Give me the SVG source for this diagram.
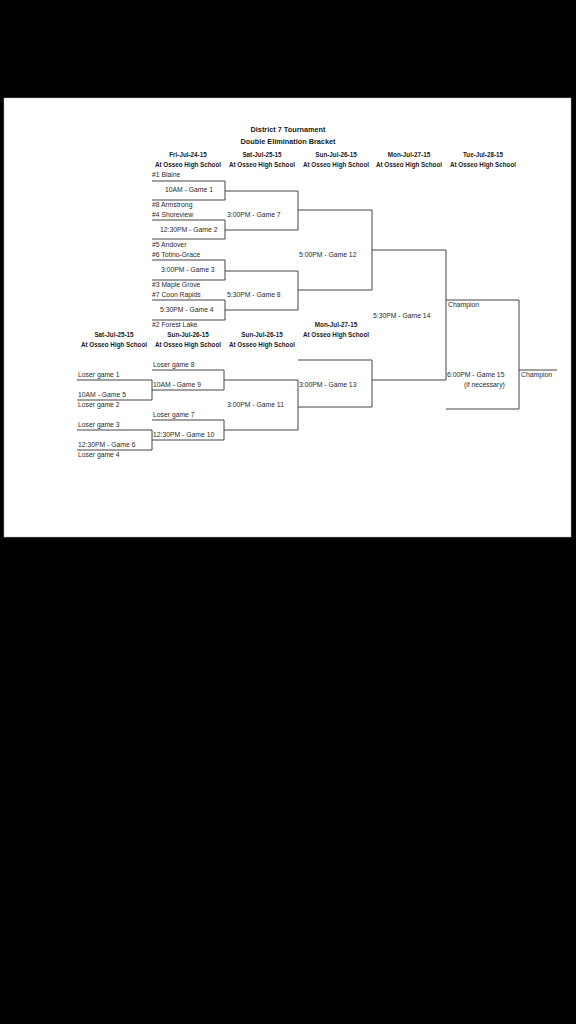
<svg xmlns="http://www.w3.org/2000/svg" width="576" height="1024" viewBox="0 0 576 1024">
<style>
.t{font-family:"Liberation Sans",Arial,sans-serif;font-size:6.8px;fill:#2a2a2a}
.h{font-family:"Liberation Sans",Arial,sans-serif;font-size:6.3px;font-weight:bold;fill:#1a1a1a;text-anchor:middle}
.ti{font-family:"Liberation Sans",Arial,sans-serif;font-size:7.3px;font-weight:bold;fill:#1a1a1a;text-anchor:middle}
.c{fill:none;stroke:#444;stroke-width:1}
</style>
<rect x="0" y="0" width="576" height="1024" fill="#000"/>
<rect x="4" y="98" width="567" height="439" fill="#fff" stroke="#bbb" stroke-width="0.5"/>
<g id="title">
<text class="ti" x="288" y="132">District 7 Tournament</text>
<text class="ti" x="288" y="144">Double Elimination Bracket</text>
</g>
<g id="headers">
<text class="h" x="188" y="157">Fri-Jul-24-15</text>
<text class="h" x="188" y="167">At Osseo High School</text>
<text class="h" x="262" y="157">Sat-Jul-25-15</text>
<text class="h" x="262" y="167">At Osseo High School</text>
<text class="h" x="336" y="157">Sun-Jul-26-15</text>
<text class="h" x="336" y="167">At Osseo High School</text>
<text class="h" x="409" y="157">Mon-Jul-27-15</text>
<text class="h" x="409" y="167">At Osseo High School</text>
<text class="h" x="483" y="157">Tue-Jul-28-15</text>
<text class="h" x="483" y="167">At Osseo High School</text>
<text class="h" x="114" y="337">Sat-Jul-25-15</text>
<text class="h" x="114" y="347">At Osseo High School</text>
<text class="h" x="188" y="337">Sun-Jul-26-15</text>
<text class="h" x="188" y="347">At Osseo High School</text>
<text class="h" x="262" y="337">Sun-Jul-26-15</text>
<text class="h" x="262" y="347">At Osseo High School</text>
<text class="h" x="336" y="327">Mon-Jul-27-15</text>
<text class="h" x="336" y="337">At Osseo High School</text>
</g>
<g id="connectors">
<path class="c" d="M152 181H225V200H152"/>
<path class="c" d="M152 220H225V239H152"/>
<path class="c" d="M152 260H225V280H152"/>
<path class="c" d="M152 300H225V320H152"/>
<path class="c" d="M225 191H298V230H225"/>
<path class="c" d="M225 271H298V310H225"/>
<path class="c" d="M298 210H372V290H298"/>
<path class="c" d="M372 250H446V380H372"/>
<path class="c" d="M446 300H519V409H446"/>
<path class="c" d="M519 370H557"/>
<path class="c" d="M77 380H152V400H77"/>
<path class="c" d="M77 430H152V450H77"/>
<path class="c" d="M152 370H224V390H152"/>
<path class="c" d="M152 420H224V440H152"/>
<path class="c" d="M224 380H298V430H224"/>
<path class="c" d="M298 360H372V407H298"/>
</g>
<g id="winners">
<text class="t" x="152" y="177">#1 Blaine</text>
<text class="t" x="165" y="192">10AM - Game 1</text>
<text class="t" x="152" y="207">#8 Armstrong</text>
<text class="t" x="152" y="217">#4 Shoreview</text>
<text class="t" x="160" y="232">12:30PM - Game 2</text>
<text class="t" x="152" y="247">#5 Andover</text>
<text class="t" x="152" y="257">#6 Totino-Grace</text>
<text class="t" x="161" y="272">3:00PM - Game 3</text>
<text class="t" x="152" y="287">#3 Maple Grove</text>
<text class="t" x="152" y="297">#7 Coon Rapids</text>
<text class="t" x="160" y="312">5:30PM - Game 4</text>
<text class="t" x="152" y="327">#2 Forest Lake</text>
<text class="t" x="227" y="217">3:00PM - Game 7</text>
<text class="t" x="227" y="297">5:30PM - Game 8</text>
<text class="t" x="299" y="257">5:00PM - Game 12</text>
<text class="t" x="373" y="318">5:30PM - Game 14</text>
<text class="t" x="448" y="307">Champion</text>
<text class="t" x="447" y="377">6:00PM - Game 15</text>
<text class="t" x="464" y="387">(if necessary)</text>
<text class="t" x="521" y="377">Champion</text>
</g>
<g id="losers">
<text class="t" x="153" y="367">Loser game 8</text>
<text class="t" x="78" y="377">Loser game 1</text>
<text class="t" x="153" y="387">10AM - Game 9</text>
<text class="t" x="78" y="397">10AM - Game 5</text>
<text class="t" x="78" y="407">Loser game 2</text>
<text class="t" x="227" y="407">3:00PM - Game 11</text>
<text class="t" x="299" y="387">3:00PM - Game 13</text>
<text class="t" x="153" y="417">Loser game 7</text>
<text class="t" x="78" y="427">Loser game 3</text>
<text class="t" x="153" y="437">12:30PM - Game 10</text>
<text class="t" x="78" y="447">12:30PM - Game 6</text>
<text class="t" x="78" y="457">Loser game 4</text>
</g>
</svg>
